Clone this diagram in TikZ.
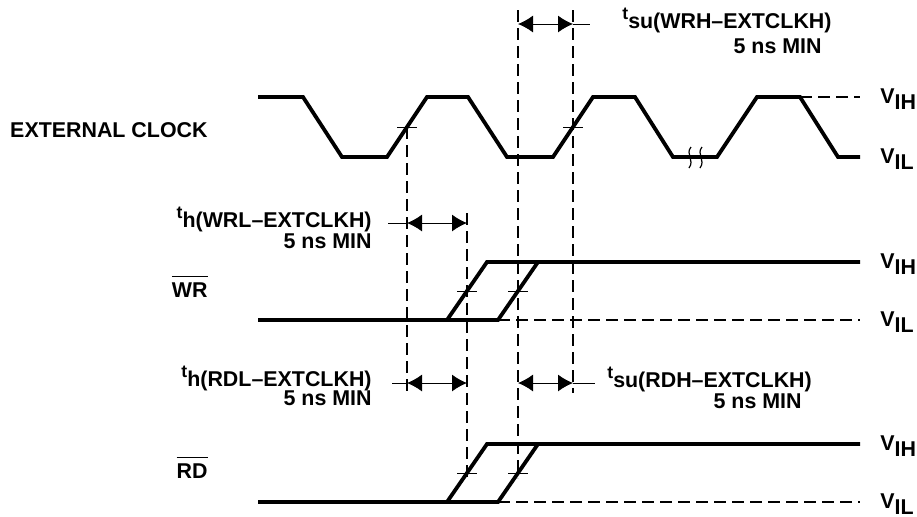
\documentclass[tikz,border=0pt]{standalone}
\usepackage{fontspec}
\setmainfont{Liberation Sans}
\usetikzlibrary{arrows.meta}

\newcommand{\tparam}[1]{\raisebox{4.5pt}{\fontsize{8.8}{9}\selectfont t}#1}
\newcommand{\vlev}[1]{V\raisebox{-3pt}{#1}}
\newcommand{\sigbar}[1]{\vbox{\hrule height 0.8pt\kern 2.5pt\hbox{#1}}}

\tikzset{
  wave/.style={line width=1.9pt},
  guide/.style={line width=0.6pt, dash pattern=on 6pt off 3pt},
  tick/.style={line width=0.5pt},
  span/.style={line width=0.5pt, {Latex[length=7.5pt,width=8.5pt]}-{Latex[length=7.5pt,width=8.5pt]}},
  lbl/.style={font=\fontsize{10.7}{12}\selectfont\bfseries, inner sep=0pt},
}

\begin{document}
\begin{tikzpicture}[x=0.5pt, y=-0.5pt]
\useasboundingbox (0,0) rectangle (917,516);

% external clock
\draw[wave] (258,97) -- (303,97) -- (342,157) -- (387,157) -- (427,97) -- (468,97)
  -- (507,157) -- (553,157) -- (593,97) -- (635,97) -- (673,157) -- (717,157)
  -- (757,97) -- (800,97) -- (838,157) -- (860,157);
\draw[guide] (800,97) -- (860,97);
\draw[tick, line width=0.6pt] (691,147) .. controls (685,154) and (695,160) .. (689,168);
\draw[tick, line width=0.6pt] (702,147) .. controls (696,154) and (706,160) .. (700,168);

% WR
\draw[wave] (258,320) -- (447,320) -- (487,262) -- (860,262);
\draw[wave] (447,320) -- (498,320) -- (538,262);
\draw[guide] (498,320) -- (860,320);

% RD
\draw[wave] (258,502) -- (447,502) -- (487,444) -- (860,444);
\draw[wave] (447,502) -- (498,502) -- (538,444);
\draw[guide] (498,502) -- (860,502);

% reference lines
\draw[guide] (407,127) -- (407,393);
\draw[guide] (467,213) -- (467,478);
\draw[guide] (518,10) -- (518,478);
\draw[guide] (573,10) -- (573,393);
\foreach \x/\y in {407/127, 573/127, 467/291, 518/291, 467/473, 518/473}
  \draw[tick] (\x-10,\y) -- (\x+10,\y);

% timing arrows
\coordinate (suwrl) at (518,24);
\coordinate (suwrr) at (573,24);
\coordinate (hwrl) at (407,223);
\coordinate (hwrr) at (467,223);
\coordinate (hrdl) at (407,383);
\coordinate (hrdr) at (467,383);
\coordinate (surdl) at (518,383);
\coordinate (surdr) at (573,383);
\draw[span] (suwrl) -- (suwrr);
\draw[tick] (suwrr) -- ++(17,0);
\draw[span] (hwrl) -- (hwrr);
\draw[tick] (hwrl) -- ++(-19,0);
\draw[span] (hrdl) -- (hrdr);
\draw[tick] (hrdl) -- ++(-15,0);
\draw[span] (surdl) -- (surdr);
\draw[tick] (surdr) -- ++(22,0);

% labels
\node[lbl, anchor=base east] (clk) at (208,137) {EXTERNAL CLOCK};
\node[lbl, anchor=base east] (wr) at (208,297) {\sigbar{WR}};
\node[lbl, anchor=base east] (rd) at (208,478) {\sigbar{RD}};

\node[lbl, anchor=base west] (suwr) at (622,28) {\tparam{su(WRH--EXTCLKH)}};
\node[lbl, anchor=base east] (suwrmin) at (822,53) {5 ns MIN};
\node[lbl, anchor=base east] (hwr) at (372,227) {\tparam{h(WRL--EXTCLKH)}};
\node[lbl, anchor=base east] (hwrmin) at (372,248) {5 ns MIN};
\node[lbl, anchor=base east] (hrd) at (372,386) {\tparam{h(RDL--EXTCLKH)}};
\node[lbl, anchor=base east] (hrdmin) at (372,405) {5 ns MIN};
\node[lbl, anchor=base west] (surd) at (607,387) {\tparam{su(RDH--EXTCLKH)}};
\node[lbl, anchor=base east] (surdmin) at (802,408) {5 ns MIN};

\node[lbl, anchor=base west] (vihclk) at (880,103) {\vlev{IH}};
\node[lbl, anchor=base west] (vilclk) at (880,163) {\vlev{IL}};
\node[lbl, anchor=base west] (vihwr) at (880,268) {\vlev{IH}};
\node[lbl, anchor=base west] (vilwr) at (880,326) {\vlev{IL}};
\node[lbl, anchor=base west] (vihrd) at (880,450) {\vlev{IH}};
\node[lbl, anchor=base west] (vilrd) at (880,508) {\vlev{IL}};
\end{tikzpicture}
\end{document}
